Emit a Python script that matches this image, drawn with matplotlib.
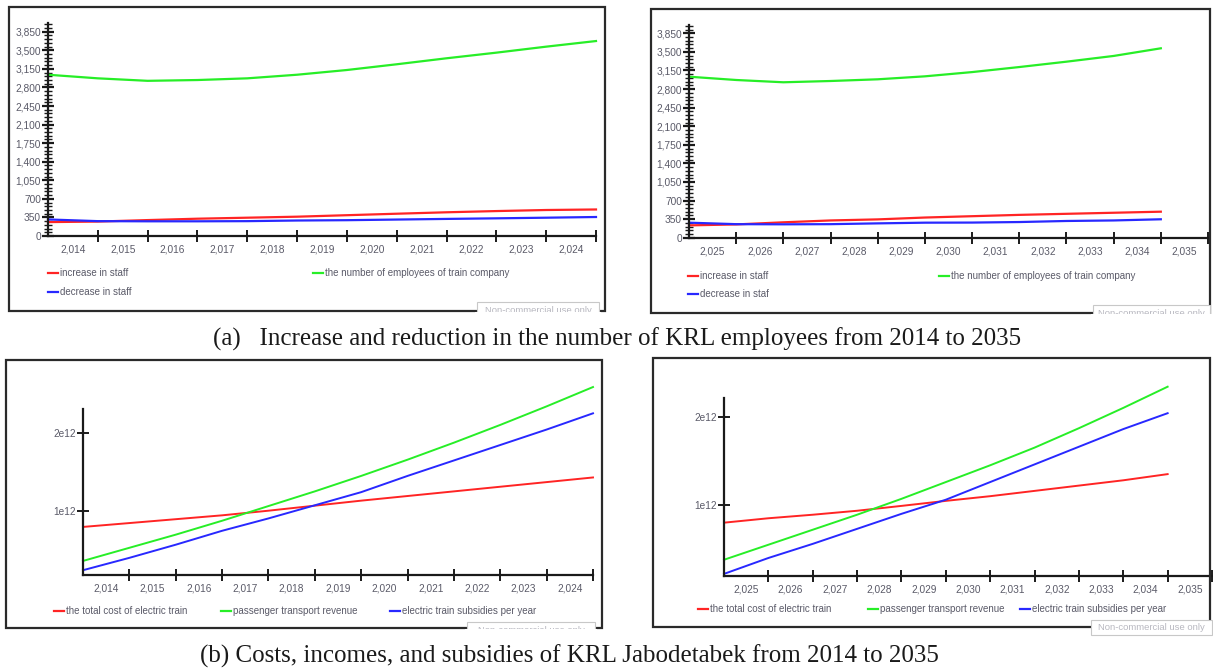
import numpy as np
import matplotlib
matplotlib.use("Agg")
import matplotlib.pyplot as plt
from matplotlib.lines import Line2D
from matplotlib.patches import Rectangle
from matplotlib.ticker import MultipleLocator, FixedLocator, FuncFormatter

W, H = 1213, 669

# staff model, first run (2014-2025)
years_a1 = np.arange(2014, 2026)
staff_up_a1 = [262, 272, 300, 326, 345, 364, 392, 420, 447, 470, 490, 500]
staff_down_a1 = [312, 280, 277, 277, 280, 292, 298, 310, 322, 333, 345, 358]
employees_a1 = [3040, 2972, 2925, 2940, 2972, 3040, 3129, 3237, 3350, 3456, 3569, 3675]

# staff model, second run (2025-2035)
years_a2 = np.arange(2025, 2036)
staff_up_a2 = [232, 250, 290, 325, 345, 380, 405, 430, 450, 470, 490]
staff_down_a2 = [283, 255, 252, 255, 270, 283, 285, 295, 315, 325, 347]
employees_a2 = [3033, 2971, 2928, 2952, 2984, 3040, 3120, 3215, 3316, 3424, 3568]

# finance model (values in 1e12)
years_b1 = np.arange(2014, 2026)
cost_b1 = [0.79, 0.84, 0.89, 0.94, 1.00, 1.065, 1.13, 1.19, 1.25, 1.31, 1.37, 1.43]
revenue_b1 = [0.35, 0.52, 0.69, 0.87, 1.06, 1.25, 1.45, 1.66, 1.88, 2.11, 2.35, 2.60]
subsidy_b1 = [0.23, 0.39, 0.56, 0.74, 0.90, 1.07, 1.24, 1.45, 1.65, 1.85, 2.05, 2.26]

years_b2 = np.arange(2025, 2036)
cost_b2 = [0.80, 0.85, 0.89, 0.935, 0.99, 1.047, 1.10, 1.16, 1.22, 1.28, 1.35]
revenue_b2 = [0.38, 0.55, 0.72, 0.89, 1.07, 1.26, 1.45, 1.65, 1.87, 2.10, 2.34]
subsidy_b2 = [0.22, 0.40, 0.56, 0.73, 0.90, 1.06, 1.26, 1.46, 1.66, 1.86, 2.04]

RED, GREEN, BLUE = "#ff2424", "#27ee27", "#2828ff"
TXT = "#5a5a68"
plt.rcParams["font.family"] = ["Liberation Sans", "DejaVu Sans"]

fig = plt.figure(figsize=(W / 100, H / 100), dpi=100)


def fx(x):
    return x / W


def fy(y):
    return 1 - y / H


def px_axes(left, top, right, bottom):
    return fig.add_axes([fx(left), fy(bottom), (right - left) / W, (bottom - top) / H])


def frame(left, top, right, bottom):
    fig.add_artist(Rectangle((fx(left), fy(bottom)), (right - left) / W, (bottom - top) / H,
                             transform=fig.transFigure, fill=False, ec="#2a2a2a", lw=1.6, zorder=5))


def watermark(left, top, right, bottom, clip_y=None):
    fig.add_artist(Rectangle((fx(left), fy(bottom)), (right - left) / W, (bottom - top) / H,
                             transform=fig.transFigure, fc="white", ec="#c8c8c8", lw=0.8, zorder=6))
    fig.text(fx((left + right) / 2), fy((top + bottom) / 2 + 0.5), "Non-commercial use only",
             ha="center", va="center", fontsize=6.8, color="#b8b8c0", zorder=7)
    if clip_y is not None:
        # hide the lower part below the panel frame
        fig.add_artist(Rectangle((fx(left - 2), fy(bottom + 3)), (right - left + 4) / W, (bottom + 3 - clip_y) / H,
                                 transform=fig.transFigure, fc="white", ec="none", zorder=8))


def legend_item(x, y, color, label):
    fig.add_artist(Line2D([fx(x), fx(x + 10)], [fy(y), fy(y)], color=color, lw=1.6,
                          transform=fig.transFigure))
    fig.text(fx(x + 12), fy(y), label, ha="left", va="center", fontsize=7, color=TXT)


def style_axes(ax, x0, x1):
    for s in ("top", "right"):
        ax.spines[s].set_visible(False)
    for s in ("left", "bottom"):
        ax.spines[s].set_linewidth(1.6)
        ax.spines[s].set_color("#1a1a1a")
    ax.set_xlim(x0, x1)
    ax.xaxis.set_major_locator(FixedLocator(np.arange(x0 + 1, x1 + 1)))
    ax.xaxis.set_minor_locator(FixedLocator(np.arange(x0, x1) + 0.5))
    ax.xaxis.set_major_formatter(FuncFormatter(lambda v, p: ""))
    ax.xaxis.set_minor_formatter(FuncFormatter(lambda v, p: f"{int(v):,}"))
    ax.tick_params(axis="x", which="major", direction="inout", length=9, width=1.4, color="#1a1a1a")
    ax.tick_params(axis="x", which="minor", length=0, pad=6, labelsize=7.3, labelcolor=TXT)
    ax.patch.set_alpha(0)


def staff_panel(rect, years, up, down, emp, x0, x1, top_val):
    ax = px_axes(*rect)
    ax.plot(years, up, color=RED, lw=1.6, clip_on=False)
    ax.plot(years, down, color=BLUE, lw=1.6, clip_on=False)
    ax.plot(years, emp, color=GREEN, lw=1.6, clip_on=False)
    style_axes(ax, x0, x1)
    ax.set_ylim(0, top_val)
    ax.yaxis.set_major_locator(MultipleLocator(350))
    ax.yaxis.set_minor_locator(MultipleLocator(70))
    ax.yaxis.set_major_formatter(FuncFormatter(lambda v, p: f"{int(v):,}"))
    ax.tick_params(axis="y", which="major", direction="inout", length=8, width=1.6,
                   pad=1, labelsize=7.3, labelcolor=TXT, color="#1a1a1a")
    ax.tick_params(axis="y", which="minor", direction="inout", length=6, width=1.0, color="#1a1a1a")
    return ax


def money_panel(rect, years, cost, rev, sub, x0, x1, y0, y1, spine_top):
    ax = px_axes(*rect)
    ax.plot(years, np.array(cost) * 1e12, color=RED, lw=1.4, clip_on=False)
    ax.plot(years, np.array(rev) * 1e12, color=GREEN, lw=1.4, clip_on=False)
    ax.plot(years, np.array(sub) * 1e12, color=BLUE, lw=1.4, clip_on=False)
    style_axes(ax, x0, x1)
    ax.set_ylim(y0 * 1e12, y1 * 1e12)
    ax.spines["left"].set_bounds(y0 * 1e12, spine_top * 1e12)
    ax.yaxis.set_major_locator(FixedLocator([1e12, 2e12]))
    ax.yaxis.set_major_formatter(FuncFormatter(lambda v, p: f"{int(round(v / 1e12))}e12"))
    ax.tick_params(axis="y", which="major", direction="inout", length=8, width=1.4,
                   pad=1, labelsize=7.3, labelcolor=TXT, color="#1a1a1a")
    return ax


# (a) employees
frame(9, 7, 605, 311)
staff_panel((48, 23, 596, 236), years_a1, staff_up_a1, staff_down_a1, employees_a1, 2014, 2025, 4015)
legend_item(48, 273, RED, "increase in staff")
legend_item(48, 292, BLUE, "decrease in staff")
legend_item(313, 273, GREEN, "the number of employees of train company")
watermark(477, 302, 599, 318, clip_y=312)

frame(651, 9, 1210, 313)
staff_panel((689, 25, 1208, 237.7), years_a2, staff_up_a2, staff_down_a2, employees_a2, 2025, 2036, 4007)
legend_item(688, 276, RED, "increase in staff")
legend_item(688, 294, BLUE, "decrease in staf")
legend_item(939, 276, GREEN, "the number of employees of train company")
watermark(1093, 305, 1210, 321, clip_y=314)

# (b) costs, incomes and subsidies
frame(6, 360, 602, 628)
money_panel((83, 380, 593, 575), years_b1, cost_b1, revenue_b1, subsidy_b1,
            2014, 2025, 0.168, 2.691, 2.314)
legend_item(54, 611, RED, "the total cost of electric train")
legend_item(221, 611, GREEN, "passenger transport revenue")
legend_item(390, 611, BLUE, "electric train subsidies per year")
watermark(467, 622, 595, 638, clip_y=629)

frame(653, 358, 1210, 627)
money_panel((724, 380, 1212, 576), years_b2, cost_b2, revenue_b2, subsidy_b2,
            2025, 2036, 0.196, 2.416, 2.21)
legend_item(698, 609, RED, "the total cost of electric train")
legend_item(868, 609, GREEN, "passenger transport revenue")
legend_item(1020, 609, BLUE, "electric train subsidies per year")
watermark(1091, 620, 1212, 635)

serif = ["Liberation Serif", "DejaVu Serif"]
fig.text(fx(213), fy(339), "(a)   Increase and reduction in the number of KRL employees from 2014 to 2035",
         ha="left", va="center", fontsize=18, family=serif, color="#1a1a1a")
fig.text(fx(200), fy(656), "(b) Costs, incomes, and subsidies of KRL Jabodetabek from 2014 to 2035",
         ha="left", va="center", fontsize=18, family=serif, color="#1a1a1a")

fig.savefig("out.png", dpi=100)
